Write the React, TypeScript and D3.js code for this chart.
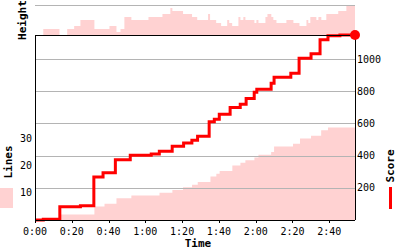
import React from "react";
import * as d3 from "d3";

// Score over time (seconds)
const scoreTimes = [0, 4.5, 13.5, 24.7, 32, 37, 43.7, 51.8, 63.2, 67.6, 74.6, 80.8, 85.3, 88.4, 94.7, 97.5, 100.2, 106.1, 111.6, 114.8, 119.2, 120.6, 128.4, 130, 139.1, 143.6, 150.1, 155, 159.3, 165.8, 174];
const scoreValues = [0, 5, 83, 89, 267, 294, 375, 402, 410, 427, 458, 479, 496, 521, 610, 627, 658, 700, 720, 756, 794, 812, 850, 887, 912, 1006, 1033, 1120, 1146, 1150, 1150];

// Lines cleared over time
const lineTimes = [0, 13.5, 32.3, 37.8, 44.3, 52.4, 67.7, 74.7, 80.5, 85.4, 88.5, 95.4, 98.6, 100.4, 107.3, 111.7, 114.4, 119.3, 121.5, 128.4, 130, 140.3, 144.1, 150.1, 155.6, 159.3, 174];
const lineValues = [0, 2, 5, 6, 8, 9, 10, 11, 12, 13, 14, 16, 17, 18, 20, 21, 22, 23, 24, 25, 27, 28, 30, 31, 33, 34, 34];

// Stack height over time
const heightTimes = [0, 4.5, 13.3, 17.5, 21.3, 24.7, 32.3, 40.5, 44.3, 46.5, 48.6, 52.4, 61.7, 69.3, 73.6, 74.7, 80.5, 85.4, 88.2, 94.1, 95.2, 98.5, 101.2, 104.5, 105.6, 107.2, 110.6, 111.7, 113.3, 114.4, 119.3, 120.4, 121.5, 125.3, 126.4, 128.5, 129.6, 131.3, 136.7, 140.5, 143.8, 147.6, 148.6, 149.7, 153, 154.1, 155.7, 158.4, 164.9, 169.3, 174];
const heightValues = [0, 2, 0, 2, 3, 5, 2, 3, 1, 2, 6, 5, 6, 7, 9, 8, 7, 6, 5, 7, 5, 4, 3, 5, 4, 3, 6, 5, 6, 5, 4, 5, 4, 6, 7, 6, 5, 4, 5, 4, 3, 5, 4, 6, 5, 6, 5, 7, 8, 9.7, 9.7];

const timeTicks = [0, 20, 40, 60, 80, 100, 120, 140, 160];
const scoreTicks = [200, 400, 600, 800, 1000];
const lineTicks = [10, 20, 30];

const GAME_END = 174;
const MAX_SCORE = 1150;
const MAX_LINES = 34;
const MAX_HEIGHT = 10;

const FONT = "'DejaVu Sans Mono', monospace";
const PINK = "#ffd2d2";
const RED = "#ff0000";
const GRID = "#b4b4b4";

function fmt(t: number) {
  const m = Math.floor(t / 60);
  const s = t % 60;
  return `${m}:${s < 10 ? "0" : ""}${s}`;
}

export default function App() {
  const X0 = 35, X1 = 355, YTOP = 35, YBOT = 220, HTOP = 5;
  const x = d3.scaleLinear().domain([0, GAME_END]).range([X0, X1]);
  const yScore = d3.scaleLinear().domain([0, MAX_SCORE]).range([YBOT, YTOP]);
  const yLines = d3.scaleLinear().domain([0, MAX_LINES]).range([YBOT, (YBOT + YTOP) / 2]);
  const yHeight = d3.scaleLinear().domain([0, MAX_HEIGHT]).range([YTOP, HTOP]);

  const heightArea = d3.area<number>()
    .x((_, i) => x(heightTimes[i]))
    .y0(YTOP)
    .y1((d) => yHeight(d))
    .curve(d3.curveStepAfter)(heightValues) as string;

  const linesArea = d3.area<number>()
    .x((_, i) => x(lineTimes[i]))
    .y0(YBOT)
    .y1((d) => yLines(d))
    .curve(d3.curveStepAfter)(lineValues) as string;

  const scoreLine = d3.line<number>()
    .x((_, i) => x(scoreTimes[i]))
    .y((d) => yScore(d))
    .curve(d3.curveStepAfter)(scoreValues) as string;

  const lastScore = scoreValues[scoreValues.length - 1];

  return (
    <svg width={400} height={250} style={{ position: "absolute", left: 0, top: 0, background: "#fff" }}>
      <rect x={0} y={0} width={400} height={250} fill="#fff" />
      <path d={heightArea} fill={PINK} />
      <path d={linesArea} fill={PINK} />
      <line x1={X0} x2={X1} y1={HTOP + 0.5} y2={HTOP + 0.5} stroke={GRID} />
      {scoreTicks.map((v) => (
        <line key={v} x1={X0} x2={X1} y1={Math.round(yScore(v)) + 0.5} y2={Math.round(yScore(v)) + 0.5} stroke={GRID} />
      ))}
      <path d={scoreLine} fill="none" stroke={RED} strokeWidth={3} />
      <g stroke="#000" strokeWidth={1} shapeRendering="crispEdges">
        <line x1={X0} x2={X1} y1={YTOP} y2={YTOP} />
        <line x1={X0} x2={X1} y1={YBOT} y2={YBOT} />
        <line x1={X0} x2={X0} y1={YTOP} y2={YBOT} />
        <line x1={X1} x2={X1} y1={YTOP} y2={YBOT} />
        {timeTicks.map((t) => (
          <line key={t} x1={Math.round(x(t))} x2={Math.round(x(t))} y1={YBOT} y2={YBOT + 3} />
        ))}
      </g>
      <circle cx={x(GAME_END)} cy={yScore(lastScore)} r={5} fill={RED} />
      <g fontFamily={FONT} fontSize={10} fill="#000">
        {timeTicks.map((t) => (
          <text key={t} x={x(t)} y={235} textAnchor="middle">{fmt(t)}</text>
        ))}
        {scoreTicks.map((v) => (
          <text key={v} x={X1 + 2} y={yScore(v) + 3.5} textAnchor="start">{v}</text>
        ))}
        {lineTicks.map((v) => (
          <text key={v} x={X0 - 3} y={yLines(v) + 3.5} textAnchor="end">{v}</text>
        ))}
      </g>
      <g fontFamily={FONT} fontSize={11} fontWeight="bold" fill="#000">
        <text x={198} y={247} textAnchor="middle">Time</text>
        <text transform="translate(26,20) rotate(-90)" textAnchor="middle">Height</text>
        <text transform="translate(12,162) rotate(-90)" textAnchor="middle">Lines</text>
        <text transform="translate(394,166) rotate(-90)" textAnchor="middle">Score</text>
      </g>
      <rect x={0} y={188} width={13} height={20} fill={PINK} />
      <rect x={389} y={187} width={3} height={22} fill={RED} />
    </svg>
  );
}
